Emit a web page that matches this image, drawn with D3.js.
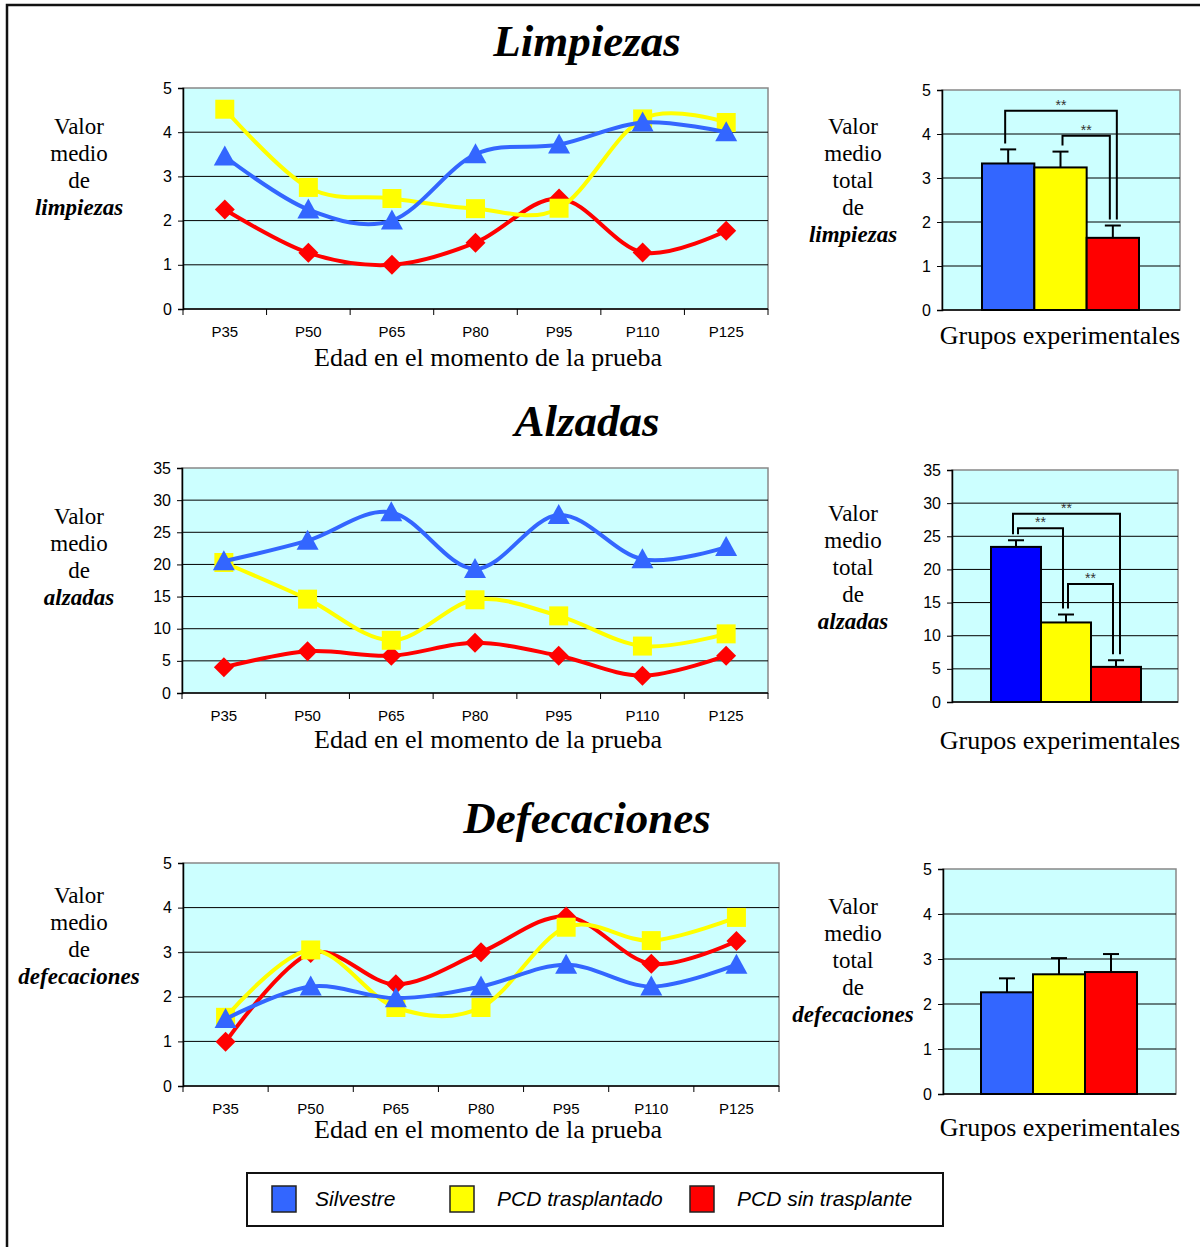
<!DOCTYPE html>
<html>
<head>
<meta charset="utf-8">
<script src="https://cdn.jsdelivr.net/npm/d3@7"></script>
<style>
  body { margin: 0; background: #fff; }
  svg { display: block; }
</style>
</head>
<body>
<svg id="chart" width="1200" height="1247"></svg>
<script>
// ages (x categories) and groups
var ages = ["P35", "P50", "P65", "P80", "P95", "P110", "P125"];
var groups = ["Silvestre", "PCD trasplantado", "PCD sin trasplante"];

// Limpiezas, per age
var limpiezasSilvestre = [3.45, 2.25, 2.0, 3.5, 3.72, 4.22, 4.0];
var limpiezasTrasplantado = [4.52, 2.75, 2.5, 2.27, 2.28, 4.3, 4.22];
var limpiezasSinTrasplante = [2.25, 1.27, 1.0, 1.5, 2.5, 1.28, 1.77];
// Limpiezas totals + error
var limpiezasTotal = [3.33, 3.24, 1.64];
var limpiezasError = [0.32, 0.36, 0.28];
var limpiezasSig = [[0, 2, 4.53], [1, 2, 3.96]];

// Alzadas
var alzadasSilvestre = [20.5, 23.7, 28.1, 19.3, 27.7, 20.8, 22.7];
var alzadasTrasplantado = [20.3, 14.6, 8.2, 14.5, 12.0, 7.3, 9.2];
var alzadasSinTrasplante = [4.0, 6.5, 5.8, 7.8, 5.8, 2.7, 5.8];
var alzadasTotal = [23.4, 12.0, 5.3];
var alzadasError = [1.0, 1.2, 1.0];
var alzadasSig = [[0, 2, 28.4], [0, 1, 26.2], [1, 2, 17.8]];

// Defecaciones
var defecacionesSilvestre = [1.5, 2.23, 1.97, 2.23, 2.72, 2.23, 2.72];
var defecacionesTrasplantado = [1.54, 3.05, 1.76, 1.76, 3.56, 3.26, 3.78];
var defecacionesSinTrasplante = [0.99, 2.98, 2.28, 3.0, 3.8, 2.74, 3.25];
var defecacionesTotal = [2.26, 2.66, 2.71];
var defecacionesError = [0.31, 0.36, 0.4];
var defecacionesSig = [];

var colors = ["#3366ff", "#ffff00", "#ff0000"];
var shapes = ["triangle", "square", "diamond"];
var plotBg = "#ccffff";
var serif = "'Liberation Serif', 'Times New Roman', serif";
var sans = "'Liberation Sans', Arial, sans-serif";

var svg = d3.select("#chart");

// outer frame
svg.append("path")
   .attr("d", "M7,1260 V5 H1210")
   .attr("fill", "none")
   .attr("stroke", "#111")
   .attr("stroke-width", 2.5);

function markerPath(shape) {
    if (shape == "triangle") return "M0,-11 L11,9 L-11,9 Z";
    if (shape == "square") return "M-9.5,-9.5 H9.5 V9.5 H-9.5 Z";
    return "M0,-10 L10,0 L0,10 L-10,0 Z";
}

function drawTitle(text, y) {
    svg.append("text")
       .attr("x", 587).attr("y", y)
       .attr("text-anchor", "middle")
       .attr("font-family", serif)
       .attr("font-size", "45px")
       .attr("font-weight", "bold")
       .attr("font-style", "italic")
       .text(text);
}

// stacked y label, last word bold italic
function drawYLabel(lines, cx, firstY) {
    lines.forEach(function (t, i) {
        var last = (i == lines.length - 1);
        svg.append("text")
           .attr("x", cx).attr("y", firstY + i * 27)
           .attr("text-anchor", "middle")
           .attr("font-family", serif)
           .attr("font-size", "23px")
           .attr("font-weight", last ? "bold" : "normal")
           .attr("font-style", last ? "italic" : "normal")
           .text(t);
    });
}

function styleYAxis(ya) {
    ya.select(".domain").attr("stroke-width", 1.5);
    ya.selectAll("text")
      .attr("font-family", sans)
      .style("font-size", "16px")
      .attr("fill", "#000");
}

function drawLineChart(cfg) {
    var g = svg.append("g");

    var x = d3.scaleBand().domain(ages).range([cfg.x0, cfg.x1]);
    var y = d3.scaleLinear().domain([0, cfg.max]).range([cfg.y1, cfg.y0]);

    g.append("rect")
     .attr("x", cfg.x0).attr("y", cfg.y0)
     .attr("width", cfg.x1 - cfg.x0).attr("height", cfg.y1 - cfg.y0)
     .attr("fill", plotBg)
     .attr("stroke", "#888").attr("stroke-width", 1.5);

    // gridlines
    var ticks = d3.range(0, cfg.max + 0.001, cfg.step);
    g.selectAll(".grid").data(ticks.slice(1, -1)).enter()
     .append("line")
     .attr("x1", cfg.x0).attr("x2", cfg.x1)
     .attr("y1", function (d) { return y(d); })
     .attr("y2", function (d) { return y(d); })
     .attr("stroke", "#000").attr("stroke-width", 1);

    // y axis
    var yAxis = d3.axisLeft(y).tickValues(ticks).tickSize(5).tickPadding(6).tickFormat(d3.format("d"));
    var ya = g.append("g").attr("transform", "translate(" + cfg.x0 + ",0)").call(yAxis);
    styleYAxis(ya);

    // x axis, ticks on band boundaries
    var bounds = ages.map(function (a) { return x(a); }).concat([cfg.x1]);
    g.append("line")
     .attr("x1", cfg.x0).attr("x2", cfg.x1)
     .attr("y1", cfg.y1).attr("y2", cfg.y1)
     .attr("stroke", "#000").attr("stroke-width", 1.5);
    g.selectAll(".xtick").data(bounds).enter()
     .append("line")
     .attr("x1", function (d) { return d; }).attr("x2", function (d) { return d; })
     .attr("y1", cfg.y1).attr("y2", cfg.y1 + 6)
     .attr("stroke", "#000");
    g.selectAll(".xlab").data(ages).enter()
     .append("text")
     .attr("x", function (d) { return x(d) + x.bandwidth() / 2; })
     .attr("y", cfg.y1 + 28)
     .attr("text-anchor", "middle")
     .attr("font-family", sans).attr("font-size", "15px")
     .text(function (d) { return d; });

    var line = d3.line()
        .x(function (d, i) { return x(ages[i]) + x.bandwidth() / 2; })
        .y(function (d) { return y(d); })
        .curve(d3.curveCatmullRom.alpha(0));

    // red first, blue last: blue markers sit on top in the original
    [2, 1, 0].forEach(function (k) {
        var s = cfg.series[k];
        g.append("path")
         .attr("d", line(s))
         .attr("fill", "none")
         .attr("stroke", colors[k])
         .attr("stroke-width", 4);
        g.selectAll(".m" + k).data(s).enter()
         .append("path")
         .attr("d", markerPath(shapes[k]))
         .attr("transform", function (d, i) {
             return "translate(" + (x(ages[i]) + x.bandwidth() / 2) + "," + y(d) + ")";
         })
         .attr("fill", colors[k]);
    });

    g.append("text")
     .attr("x", 488).attr("y", cfg.titleY)
     .attr("text-anchor", "middle")
     .attr("font-family", serif).attr("font-size", "26px")
     .text("Edad en el momento de la prueba");
}

function drawBarChart(cfg) {
    var g = svg.append("g");

    var y = d3.scaleLinear().domain([0, cfg.max]).range([cfg.y1, cfg.y0]);
    var x = d3.scaleBand().domain(groups).range([cfg.b0, cfg.b1]).paddingInner(0);

    g.append("rect")
     .attr("x", cfg.x0).attr("y", cfg.y0)
     .attr("width", cfg.x1 - cfg.x0).attr("height", cfg.y1 - cfg.y0)
     .attr("fill", plotBg)
     .attr("stroke", "#888").attr("stroke-width", 1.5);

    var ticks = d3.range(0, cfg.max + 0.001, cfg.step);
    g.selectAll(".grid").data(ticks.slice(1, -1)).enter()
     .append("line")
     .attr("x1", cfg.x0).attr("x2", cfg.x1)
     .attr("y1", function (d) { return y(d); })
     .attr("y2", function (d) { return y(d); })
     .attr("stroke", "#000").attr("stroke-width", 1);

    var yAxis = d3.axisLeft(y).tickValues(ticks).tickSize(5).tickPadding(6).tickFormat(d3.format("d"));
    var ya = g.append("g").attr("transform", "translate(" + cfg.x0 + ",0)").call(yAxis);
    styleYAxis(ya);

    g.append("line")
     .attr("x1", cfg.x0).attr("x2", cfg.x1)
     .attr("y1", cfg.y1).attr("y2", cfg.y1)
     .attr("stroke", "#000").attr("stroke-width", 1.5);

    var barColors = cfg.barColors || colors;

    // error bars first (behind the bar top)
    cfg.values.forEach(function (v, i) {
        var cx = x(groups[i]) + x.bandwidth() / 2;
        g.append("line")
         .attr("x1", cx).attr("x2", cx)
         .attr("y1", y(v)).attr("y2", y(v + cfg.errors[i]))
         .attr("stroke", "#000").attr("stroke-width", 2);
        g.append("line")
         .attr("x1", cx - 8).attr("x2", cx + 8)
         .attr("y1", y(v + cfg.errors[i])).attr("y2", y(v + cfg.errors[i]))
         .attr("stroke", "#000").attr("stroke-width", 2);
    });

    g.selectAll(".bar").data(cfg.values).enter()
     .append("rect")
     .attr("x", function (d, i) { return x(groups[i]); })
     .attr("y", function (d) { return y(d); })
     .attr("width", x.bandwidth())
     .attr("height", function (d) { return cfg.y1 - y(d); })
     .attr("fill", function (d, i) { return barColors[i]; })
     .attr("stroke", "#000").attr("stroke-width", 2);

    // significance brackets
    cfg.sig.forEach(function (s) {
        var a = s[0], b = s[1];
        var wide = (b - a) > 1;
        var xa = x(groups[a]) + x.bandwidth() / 2 + (wide ? -3 : 2);
        var xb = x(groups[b]) + x.bandwidth() / 2 + (wide ? 4 : -3);
        var top = y(s[2]);
        var ya0 = y(cfg.values[a] + cfg.errors[a]) - 6;
        var yb0 = y(cfg.values[b] + cfg.errors[b]) - 6;
        g.append("path")
         .attr("d", "M" + xa + "," + ya0 + " V" + top + " H" + xb + " V" + yb0)
         .attr("fill", "none")
         .attr("stroke", "#000").attr("stroke-width", 2);
        g.append("text")
         .attr("x", (xa + xb) / 2).attr("y", top - 1)
         .attr("text-anchor", "middle")
         .attr("font-family", sans).attr("font-size", "14px")
         .attr("fill", "#333")
         .text("**");
    });

    g.append("text")
     .attr("x", 1060).attr("y", cfg.titleY)
     .attr("text-anchor", "middle")
     .attr("font-family", serif).attr("font-size", "26px")
     .text("Grupos experimentales");
}

// ---- Limpiezas ----
drawTitle("Limpiezas", 56);
drawYLabel(["Valor", "medio", "de", "limpiezas"], 79, 134);
drawLineChart({
    x0: 183, x1: 768, y0: 88, y1: 309, max: 5, step: 1, titleY: 366,
    series: [limpiezasSilvestre, limpiezasTrasplantado, limpiezasSinTrasplante]
});
drawYLabel(["Valor", "medio", "total", "de", "limpiezas"], 853, 134);
drawBarChart({
    x0: 942, x1: 1180, y0: 90, y1: 310, b0: 982, b1: 1139, max: 5, step: 1, titleY: 344,
    values: limpiezasTotal, errors: limpiezasError, sig: limpiezasSig
});

// ---- Alzadas ----
drawTitle("Alzadas", 436);
drawYLabel(["Valor", "medio", "de", "alzadas"], 79, 524);
drawLineChart({
    x0: 182, x1: 768, y0: 468, y1: 693, max: 35, step: 5, titleY: 748,
    series: [alzadasSilvestre, alzadasTrasplantado, alzadasSinTrasplante]
});
drawYLabel(["Valor", "medio", "total", "de", "alzadas"], 853, 521);
drawBarChart({
    x0: 952, x1: 1178, y0: 470, y1: 702, b0: 991, b1: 1141, max: 35, step: 5, titleY: 749,
    values: alzadasTotal, errors: alzadasError, sig: alzadasSig,
    barColors: ["#0000ff", "#ffff00", "#ff0000"]
});

// ---- Defecaciones ----
drawTitle("Defecaciones", 833);
drawYLabel(["Valor", "medio", "de", "defecaciones"], 79, 903);
drawLineChart({
    x0: 183, x1: 779, y0: 863, y1: 1086, max: 5, step: 1, titleY: 1138,
    series: [defecacionesSilvestre, defecacionesTrasplantado, defecacionesSinTrasplante]
});
drawYLabel(["Valor", "medio", "total", "de", "defecaciones"], 853, 914);
drawBarChart({
    x0: 943, x1: 1176, y0: 869, y1: 1094, b0: 981, b1: 1137, max: 5, step: 1, titleY: 1136,
    values: defecacionesTotal, errors: defecacionesError, sig: defecacionesSig
});

// ---- Legend ----
var legend = svg.append("g");
legend.append("rect")
      .attr("x", 247).attr("y", 1173)
      .attr("width", 696).attr("height", 53)
      .attr("fill", "#fff")
      .attr("stroke", "#111").attr("stroke-width", 2);
var legendX = [272, 450, 690];
var legendTextX = [315, 497, 737];
groups.forEach(function (name, i) {
    legend.append("rect")
          .attr("x", legendX[i]).attr("y", 1186)
          .attr("width", 24).attr("height", 26)
          .attr("fill", colors[i])
          .attr("stroke", "#222").attr("stroke-width", 1.5);
    legend.append("text")
          .attr("x", legendTextX[i]).attr("y", 1206)
          .attr("font-family", sans).attr("font-size", "21px")
          .attr("font-style", "italic")
          .text(name);
});
</script>
</body>
</html>
